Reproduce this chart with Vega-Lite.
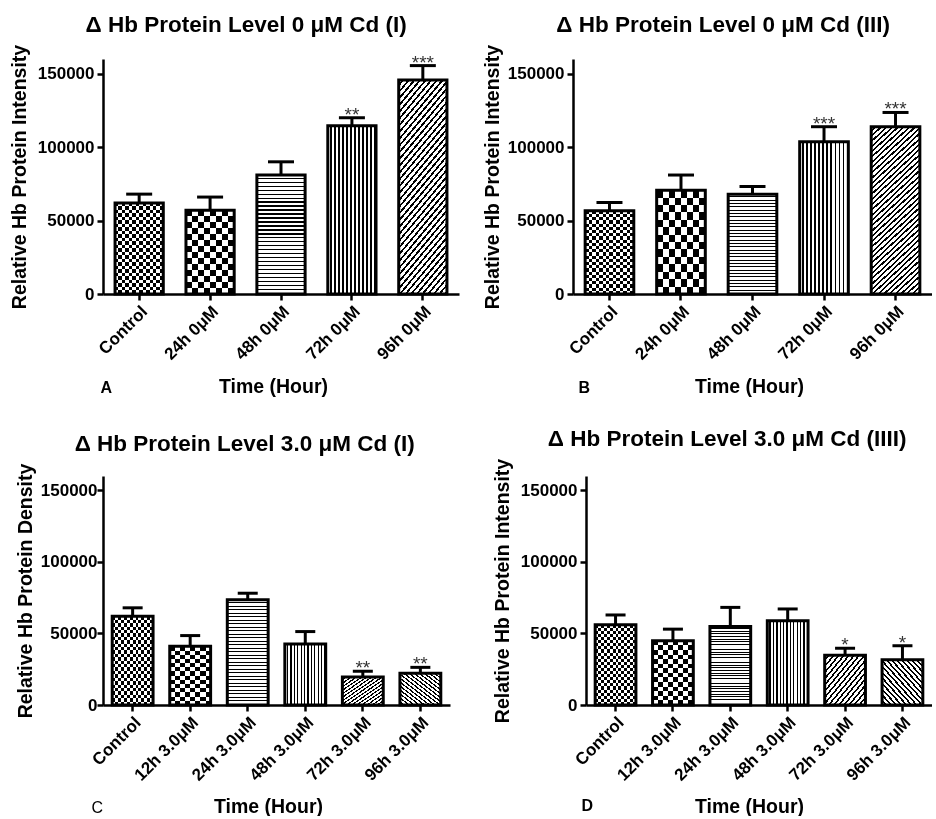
{
"$schema":"https://vega.github.io/schema/vega-lite/v6.json",
"background":"white",
"padding":{"left":9,"top":13,"right":0,"bottom":0},
"params":[
{"name":"g_vl","value":{"gradient":"linear","x1":0,"y1":0,"x2":1,"y2":0,"stops":[
{"offset":0,"color":"#fff"},
{"offset":0.05,"color":"#fff"},{"offset":0.05,"color":"#000"},{"offset":0.0833,"color":"#000"},{"offset":0.0833,"color":"#fff"},
{"offset":0.1333,"color":"#fff"},{"offset":0.1333,"color":"#000"},{"offset":0.1667,"color":"#000"},{"offset":0.1667,"color":"#fff"},
{"offset":0.2167,"color":"#fff"},{"offset":0.2167,"color":"#000"},{"offset":0.25,"color":"#000"},{"offset":0.25,"color":"#fff"},
{"offset":0.3,"color":"#fff"},{"offset":0.3,"color":"#000"},{"offset":0.3333,"color":"#000"},{"offset":0.3333,"color":"#fff"},
{"offset":0.3833,"color":"#fff"},{"offset":0.3833,"color":"#000"},{"offset":0.4167,"color":"#000"},{"offset":0.4167,"color":"#fff"},
{"offset":0.4667,"color":"#fff"},{"offset":0.4667,"color":"#000"},{"offset":0.5,"color":"#000"},{"offset":0.5,"color":"#fff"},
{"offset":0.55,"color":"#fff"},{"offset":0.55,"color":"#000"},{"offset":0.5833,"color":"#000"},{"offset":0.5833,"color":"#fff"},
{"offset":0.6333,"color":"#fff"},{"offset":0.6333,"color":"#000"},{"offset":0.6667,"color":"#000"},{"offset":0.6667,"color":"#fff"},
{"offset":0.7167,"color":"#fff"},{"offset":0.7167,"color":"#000"},{"offset":0.75,"color":"#000"},{"offset":0.75,"color":"#fff"},
{"offset":0.8,"color":"#fff"},{"offset":0.8,"color":"#000"},{"offset":0.8333,"color":"#000"},{"offset":0.8333,"color":"#fff"},
{"offset":0.8833,"color":"#fff"},{"offset":0.8833,"color":"#000"},{"offset":0.9167,"color":"#000"},{"offset":0.9167,"color":"#fff"},
{"offset":0.9667,"color":"#fff"},{"offset":0.9667,"color":"#000"},{"offset":1,"color":"#000"}]}},
{"name":"g_hl","value":{"gradient":"linear","x1":0,"y1":0,"x2":0,"y2":1,"stops":[
{"offset":0,"color":"#fff"},
{"offset":0.0222,"color":"#fff"},{"offset":0.0222,"color":"#000"},{"offset":0.0333,"color":"#000"},{"offset":0.0333,"color":"#fff"},
{"offset":0.0556,"color":"#fff"},{"offset":0.0556,"color":"#000"},{"offset":0.0667,"color":"#000"},{"offset":0.0667,"color":"#fff"},
{"offset":0.0889,"color":"#fff"},{"offset":0.0889,"color":"#000"},{"offset":0.1,"color":"#000"},{"offset":0.1,"color":"#fff"},
{"offset":0.1222,"color":"#fff"},{"offset":0.1222,"color":"#000"},{"offset":0.1333,"color":"#000"},{"offset":0.1333,"color":"#fff"},
{"offset":0.1556,"color":"#fff"},{"offset":0.1556,"color":"#000"},{"offset":0.1667,"color":"#000"},{"offset":0.1667,"color":"#fff"},
{"offset":0.1889,"color":"#fff"},{"offset":0.1889,"color":"#000"},{"offset":0.2,"color":"#000"},{"offset":0.2,"color":"#fff"},
{"offset":0.2222,"color":"#fff"},{"offset":0.2222,"color":"#000"},{"offset":0.2333,"color":"#000"},{"offset":0.2333,"color":"#fff"},
{"offset":0.2556,"color":"#fff"},{"offset":0.2556,"color":"#000"},{"offset":0.2667,"color":"#000"},{"offset":0.2667,"color":"#fff"},
{"offset":0.2889,"color":"#fff"},{"offset":0.2889,"color":"#000"},{"offset":0.3,"color":"#000"},{"offset":0.3,"color":"#fff"},
{"offset":0.3222,"color":"#fff"},{"offset":0.3222,"color":"#000"},{"offset":0.3333,"color":"#000"},{"offset":0.3333,"color":"#fff"},
{"offset":0.3556,"color":"#fff"},{"offset":0.3556,"color":"#000"},{"offset":0.3667,"color":"#000"},{"offset":0.3667,"color":"#fff"},
{"offset":0.3889,"color":"#fff"},{"offset":0.3889,"color":"#000"},{"offset":0.4,"color":"#000"},{"offset":0.4,"color":"#fff"},
{"offset":0.4222,"color":"#fff"},{"offset":0.4222,"color":"#000"},{"offset":0.4333,"color":"#000"},{"offset":0.4333,"color":"#fff"},
{"offset":0.4556,"color":"#fff"},{"offset":0.4556,"color":"#000"},{"offset":0.4667,"color":"#000"},{"offset":0.4667,"color":"#fff"},
{"offset":0.4889,"color":"#fff"},{"offset":0.4889,"color":"#000"},{"offset":0.5,"color":"#000"},{"offset":0.5,"color":"#fff"},
{"offset":0.5222,"color":"#fff"},{"offset":0.5222,"color":"#000"},{"offset":0.5333,"color":"#000"},{"offset":0.5333,"color":"#fff"},
{"offset":0.5556,"color":"#fff"},{"offset":0.5556,"color":"#000"},{"offset":0.5667,"color":"#000"},{"offset":0.5667,"color":"#fff"},
{"offset":0.5889,"color":"#fff"},{"offset":0.5889,"color":"#000"},{"offset":0.6,"color":"#000"},{"offset":0.6,"color":"#fff"},
{"offset":0.6222,"color":"#fff"},{"offset":0.6222,"color":"#000"},{"offset":0.6333,"color":"#000"},{"offset":0.6333,"color":"#fff"},
{"offset":0.6556,"color":"#fff"},{"offset":0.6556,"color":"#000"},{"offset":0.6667,"color":"#000"},{"offset":0.6667,"color":"#fff"},
{"offset":0.6889,"color":"#fff"},{"offset":0.6889,"color":"#000"},{"offset":0.7,"color":"#000"},{"offset":0.7,"color":"#fff"},
{"offset":0.7222,"color":"#fff"},{"offset":0.7222,"color":"#000"},{"offset":0.7333,"color":"#000"},{"offset":0.7333,"color":"#fff"},
{"offset":0.7556,"color":"#fff"},{"offset":0.7556,"color":"#000"},{"offset":0.7667,"color":"#000"},{"offset":0.7667,"color":"#fff"},
{"offset":0.7889,"color":"#fff"},{"offset":0.7889,"color":"#000"},{"offset":0.8,"color":"#000"},{"offset":0.8,"color":"#fff"},
{"offset":0.8222,"color":"#fff"},{"offset":0.8222,"color":"#000"},{"offset":0.8333,"color":"#000"},{"offset":0.8333,"color":"#fff"},
{"offset":0.8556,"color":"#fff"},{"offset":0.8556,"color":"#000"},{"offset":0.8667,"color":"#000"},{"offset":0.8667,"color":"#fff"},
{"offset":0.8889,"color":"#fff"},{"offset":0.8889,"color":"#000"},{"offset":0.9,"color":"#000"},{"offset":0.9,"color":"#fff"},
{"offset":0.9222,"color":"#fff"},{"offset":0.9222,"color":"#000"},{"offset":0.9333,"color":"#000"},{"offset":0.9333,"color":"#fff"},
{"offset":0.9556,"color":"#fff"},{"offset":0.9556,"color":"#000"},{"offset":0.9667,"color":"#000"},{"offset":0.9667,"color":"#fff"},
{"offset":0.9889,"color":"#fff"},{"offset":0.9889,"color":"#000"},{"offset":1,"color":"#000"}]}},
{"name":"g_dv","value":{"gradient":"linear","x1":0,"y1":0,"x2":1,"y2":0,"stops":[
{"offset":0,"color":"#fff"},{"offset":0.0714,"color":"#fff"},{"offset":0.0714,"color":"#000"},{"offset":0.1429,"color":"#000"},
{"offset":0.1429,"color":"#fff"},{"offset":0.2143,"color":"#fff"},{"offset":0.2143,"color":"#000"},{"offset":0.2857,"color":"#000"},
{"offset":0.2857,"color":"#fff"},{"offset":0.3571,"color":"#fff"},{"offset":0.3571,"color":"#000"},{"offset":0.4286,"color":"#000"},
{"offset":0.4286,"color":"#fff"},{"offset":0.5,"color":"#fff"},{"offset":0.5,"color":"#000"},{"offset":0.5714,"color":"#000"},
{"offset":0.5714,"color":"#fff"},{"offset":0.6429,"color":"#fff"},{"offset":0.6429,"color":"#000"},{"offset":0.7143,"color":"#000"},
{"offset":0.7143,"color":"#fff"},{"offset":0.7857,"color":"#fff"},{"offset":0.7857,"color":"#000"},{"offset":0.8571,"color":"#000"},
{"offset":0.8571,"color":"#fff"},{"offset":0.9286,"color":"#fff"},{"offset":0.9286,"color":"#000"},{"offset":1,"color":"#000"}]}},
{"name":"g_dh","value":{"gradient":"linear","x1":0,"y1":0,"x2":0,"y2":1,"stops":[
{"offset":0,"color":"#fff"},{"offset":0.0385,"color":"#fff"},{"offset":0.0385,"color":"#000"},{"offset":0.0769,"color":"#000"},
{"offset":0.0769,"color":"#fff"},{"offset":0.1154,"color":"#fff"},{"offset":0.1154,"color":"#000"},{"offset":0.1538,"color":"#000"},
{"offset":0.1538,"color":"#fff"},{"offset":0.1923,"color":"#fff"},{"offset":0.1923,"color":"#000"},{"offset":0.2308,"color":"#000"},
{"offset":0.2308,"color":"#fff"},{"offset":0.2692,"color":"#fff"},{"offset":0.2692,"color":"#000"},{"offset":0.3077,"color":"#000"},
{"offset":0.3077,"color":"#fff"},{"offset":0.3462,"color":"#fff"},{"offset":0.3462,"color":"#000"},{"offset":0.3846,"color":"#000"},
{"offset":0.3846,"color":"#fff"},{"offset":0.4231,"color":"#fff"},{"offset":0.4231,"color":"#000"},{"offset":0.4615,"color":"#000"},
{"offset":0.4615,"color":"#fff"},{"offset":0.5,"color":"#fff"},{"offset":0.5,"color":"#000"},{"offset":0.5385,"color":"#000"},
{"offset":0.5385,"color":"#fff"},{"offset":0.5769,"color":"#fff"},{"offset":0.5769,"color":"#000"},{"offset":0.6154,"color":"#000"},
{"offset":0.6154,"color":"#fff"},{"offset":0.6538,"color":"#fff"},{"offset":0.6538,"color":"#000"},{"offset":0.6923,"color":"#000"},
{"offset":0.6923,"color":"#fff"},{"offset":0.7308,"color":"#fff"},{"offset":0.7308,"color":"#000"},{"offset":0.7692,"color":"#000"},
{"offset":0.7692,"color":"#fff"},{"offset":0.8077,"color":"#fff"},{"offset":0.8077,"color":"#000"},{"offset":0.8462,"color":"#000"},
{"offset":0.8462,"color":"#fff"},{"offset":0.8846,"color":"#fff"},{"offset":0.8846,"color":"#000"},{"offset":0.9231,"color":"#000"},
{"offset":0.9231,"color":"#fff"},{"offset":0.9615,"color":"#fff"},{"offset":0.9615,"color":"#000"},{"offset":1,"color":"#000"}]}},
{"name":"g_cv","value":{"gradient":"linear","x1":0,"y1":0,"x2":1,"y2":0,"stops":[
{"offset":0,"color":"#fff"},{"offset":0.125,"color":"#fff"},{"offset":0.125,"color":"#000"},{"offset":0.25,"color":"#000"},
{"offset":0.25,"color":"#fff"},{"offset":0.375,"color":"#fff"},{"offset":0.375,"color":"#000"},{"offset":0.5,"color":"#000"},
{"offset":0.5,"color":"#fff"},{"offset":0.625,"color":"#fff"},{"offset":0.625,"color":"#000"},{"offset":0.75,"color":"#000"},
{"offset":0.75,"color":"#fff"},{"offset":0.875,"color":"#fff"},{"offset":0.875,"color":"#000"},{"offset":1,"color":"#000"}]}},
{"name":"g_ch","value":{"gradient":"linear","x1":0,"y1":0,"x2":0,"y2":1,"stops":[
{"offset":0,"color":"#fff"},{"offset":0.0714,"color":"#fff"},{"offset":0.0714,"color":"#000"},{"offset":0.1429,"color":"#000"},
{"offset":0.1429,"color":"#fff"},{"offset":0.2143,"color":"#fff"},{"offset":0.2143,"color":"#000"},{"offset":0.2857,"color":"#000"},
{"offset":0.2857,"color":"#fff"},{"offset":0.3571,"color":"#fff"},{"offset":0.3571,"color":"#000"},{"offset":0.4286,"color":"#000"},
{"offset":0.4286,"color":"#fff"},{"offset":0.5,"color":"#fff"},{"offset":0.5,"color":"#000"},{"offset":0.5714,"color":"#000"},
{"offset":0.5714,"color":"#fff"},{"offset":0.6429,"color":"#fff"},{"offset":0.6429,"color":"#000"},{"offset":0.7143,"color":"#000"},
{"offset":0.7143,"color":"#fff"},{"offset":0.7857,"color":"#fff"},{"offset":0.7857,"color":"#000"},{"offset":0.8571,"color":"#000"},
{"offset":0.8571,"color":"#fff"},{"offset":0.9286,"color":"#fff"},{"offset":0.9286,"color":"#000"},{"offset":1,"color":"#000"}]}},
{"name":"g_dt","value":{"gradient":"linear","x1":0,"y1":0,"x2":0.32,"y2":1.18,"stops":[
{"offset":0,"color":"#fff"},
{"offset":0.015,"color":"#fff"},{"offset":0.015,"color":"#000"},{"offset":0.025,"color":"#000"},{"offset":0.025,"color":"#fff"},
{"offset":0.04,"color":"#fff"},{"offset":0.04,"color":"#000"},{"offset":0.05,"color":"#000"},{"offset":0.05,"color":"#fff"},
{"offset":0.065,"color":"#fff"},{"offset":0.065,"color":"#000"},{"offset":0.075,"color":"#000"},{"offset":0.075,"color":"#fff"},
{"offset":0.09,"color":"#fff"},{"offset":0.09,"color":"#000"},{"offset":0.1,"color":"#000"},{"offset":0.1,"color":"#fff"},
{"offset":0.115,"color":"#fff"},{"offset":0.115,"color":"#000"},{"offset":0.125,"color":"#000"},{"offset":0.125,"color":"#fff"},
{"offset":0.14,"color":"#fff"},{"offset":0.14,"color":"#000"},{"offset":0.15,"color":"#000"},{"offset":0.15,"color":"#fff"},
{"offset":0.165,"color":"#fff"},{"offset":0.165,"color":"#000"},{"offset":0.175,"color":"#000"},{"offset":0.175,"color":"#fff"},
{"offset":0.19,"color":"#fff"},{"offset":0.19,"color":"#000"},{"offset":0.2,"color":"#000"},{"offset":0.2,"color":"#fff"},
{"offset":0.215,"color":"#fff"},{"offset":0.215,"color":"#000"},{"offset":0.225,"color":"#000"},{"offset":0.225,"color":"#fff"},
{"offset":0.24,"color":"#fff"},{"offset":0.24,"color":"#000"},{"offset":0.25,"color":"#000"},{"offset":0.25,"color":"#fff"},
{"offset":0.265,"color":"#fff"},{"offset":0.265,"color":"#000"},{"offset":0.275,"color":"#000"},{"offset":0.275,"color":"#fff"},
{"offset":0.29,"color":"#fff"},{"offset":0.29,"color":"#000"},{"offset":0.3,"color":"#000"},{"offset":0.3,"color":"#fff"},
{"offset":0.315,"color":"#fff"},{"offset":0.315,"color":"#000"},{"offset":0.325,"color":"#000"},{"offset":0.325,"color":"#fff"},
{"offset":0.34,"color":"#fff"},{"offset":0.34,"color":"#000"},{"offset":0.35,"color":"#000"},{"offset":0.35,"color":"#fff"},
{"offset":0.365,"color":"#fff"},{"offset":0.365,"color":"#000"},{"offset":0.375,"color":"#000"},{"offset":0.375,"color":"#fff"},
{"offset":0.39,"color":"#fff"},{"offset":0.39,"color":"#000"},{"offset":0.4,"color":"#000"},{"offset":0.4,"color":"#fff"},
{"offset":0.415,"color":"#fff"},{"offset":0.415,"color":"#000"},{"offset":0.425,"color":"#000"},{"offset":0.425,"color":"#fff"},
{"offset":0.44,"color":"#fff"},{"offset":0.44,"color":"#000"},{"offset":0.45,"color":"#000"},{"offset":0.45,"color":"#fff"},
{"offset":0.465,"color":"#fff"},{"offset":0.465,"color":"#000"},{"offset":0.475,"color":"#000"},{"offset":0.475,"color":"#fff"},
{"offset":0.49,"color":"#fff"},{"offset":0.49,"color":"#000"},{"offset":0.5,"color":"#000"},{"offset":0.5,"color":"#fff"},
{"offset":0.515,"color":"#fff"},{"offset":0.515,"color":"#000"},{"offset":0.525,"color":"#000"},{"offset":0.525,"color":"#fff"},
{"offset":0.54,"color":"#fff"},{"offset":0.54,"color":"#000"},{"offset":0.55,"color":"#000"},{"offset":0.55,"color":"#fff"},
{"offset":0.565,"color":"#fff"},{"offset":0.565,"color":"#000"},{"offset":0.575,"color":"#000"},{"offset":0.575,"color":"#fff"},
{"offset":0.59,"color":"#fff"},{"offset":0.59,"color":"#000"},{"offset":0.6,"color":"#000"},{"offset":0.6,"color":"#fff"},
{"offset":0.615,"color":"#fff"},{"offset":0.615,"color":"#000"},{"offset":0.625,"color":"#000"},{"offset":0.625,"color":"#fff"},
{"offset":0.64,"color":"#fff"},{"offset":0.64,"color":"#000"},{"offset":0.65,"color":"#000"},{"offset":0.65,"color":"#fff"},
{"offset":0.665,"color":"#fff"},{"offset":0.665,"color":"#000"},{"offset":0.675,"color":"#000"},{"offset":0.675,"color":"#fff"},
{"offset":0.69,"color":"#fff"},{"offset":0.69,"color":"#000"},{"offset":0.7,"color":"#000"},{"offset":0.7,"color":"#fff"},
{"offset":0.715,"color":"#fff"},{"offset":0.715,"color":"#000"},{"offset":0.725,"color":"#000"},{"offset":0.725,"color":"#fff"},
{"offset":0.74,"color":"#fff"},{"offset":0.74,"color":"#000"},{"offset":0.75,"color":"#000"},{"offset":0.75,"color":"#fff"},
{"offset":0.765,"color":"#fff"},{"offset":0.765,"color":"#000"},{"offset":0.775,"color":"#000"},{"offset":0.775,"color":"#fff"},
{"offset":0.79,"color":"#fff"},{"offset":0.79,"color":"#000"},{"offset":0.8,"color":"#000"},{"offset":0.8,"color":"#fff"},
{"offset":0.815,"color":"#fff"},{"offset":0.815,"color":"#000"},{"offset":0.825,"color":"#000"},{"offset":0.825,"color":"#fff"},
{"offset":0.84,"color":"#fff"},{"offset":0.84,"color":"#000"},{"offset":0.85,"color":"#000"},{"offset":0.85,"color":"#fff"},
{"offset":0.865,"color":"#fff"},{"offset":0.865,"color":"#000"},{"offset":0.875,"color":"#000"},{"offset":0.875,"color":"#fff"},
{"offset":0.89,"color":"#fff"},{"offset":0.89,"color":"#000"},{"offset":0.9,"color":"#000"},{"offset":0.9,"color":"#fff"},
{"offset":0.915,"color":"#fff"},{"offset":0.915,"color":"#000"},{"offset":0.925,"color":"#000"},{"offset":0.925,"color":"#fff"},
{"offset":0.94,"color":"#fff"},{"offset":0.94,"color":"#000"},{"offset":0.95,"color":"#000"},{"offset":0.95,"color":"#fff"},
{"offset":0.965,"color":"#fff"},{"offset":0.965,"color":"#000"},{"offset":0.975,"color":"#000"},{"offset":0.975,"color":"#fff"},
{"offset":0.99,"color":"#fff"},{"offset":0.99,"color":"#000"},{"offset":1,"color":"#000"}]}},
{"name":"g_ds","value":{"gradient":"linear","x1":0,"y1":0,"x2":1,"y2":1,"stops":[
{"offset":0,"color":"#fff"},
{"offset":0.0375,"color":"#fff"},{"offset":0.0375,"color":"#000"},{"offset":0.0625,"color":"#000"},{"offset":0.0625,"color":"#fff"},
{"offset":0.1,"color":"#fff"},{"offset":0.1,"color":"#000"},{"offset":0.125,"color":"#000"},{"offset":0.125,"color":"#fff"},
{"offset":0.1625,"color":"#fff"},{"offset":0.1625,"color":"#000"},{"offset":0.1875,"color":"#000"},{"offset":0.1875,"color":"#fff"},
{"offset":0.225,"color":"#fff"},{"offset":0.225,"color":"#000"},{"offset":0.25,"color":"#000"},{"offset":0.25,"color":"#fff"},
{"offset":0.2875,"color":"#fff"},{"offset":0.2875,"color":"#000"},{"offset":0.3125,"color":"#000"},{"offset":0.3125,"color":"#fff"},
{"offset":0.35,"color":"#fff"},{"offset":0.35,"color":"#000"},{"offset":0.375,"color":"#000"},{"offset":0.375,"color":"#fff"},
{"offset":0.4125,"color":"#fff"},{"offset":0.4125,"color":"#000"},{"offset":0.4375,"color":"#000"},{"offset":0.4375,"color":"#fff"},
{"offset":0.475,"color":"#fff"},{"offset":0.475,"color":"#000"},{"offset":0.5,"color":"#000"},{"offset":0.5,"color":"#fff"},
{"offset":0.5375,"color":"#fff"},{"offset":0.5375,"color":"#000"},{"offset":0.5625,"color":"#000"},{"offset":0.5625,"color":"#fff"},
{"offset":0.6,"color":"#fff"},{"offset":0.6,"color":"#000"},{"offset":0.625,"color":"#000"},{"offset":0.625,"color":"#fff"},
{"offset":0.6625,"color":"#fff"},{"offset":0.6625,"color":"#000"},{"offset":0.6875,"color":"#000"},{"offset":0.6875,"color":"#fff"},
{"offset":0.725,"color":"#fff"},{"offset":0.725,"color":"#000"},{"offset":0.75,"color":"#000"},{"offset":0.75,"color":"#fff"},
{"offset":0.7875,"color":"#fff"},{"offset":0.7875,"color":"#000"},{"offset":0.8125,"color":"#000"},{"offset":0.8125,"color":"#fff"},
{"offset":0.85,"color":"#fff"},{"offset":0.85,"color":"#000"},{"offset":0.875,"color":"#000"},{"offset":0.875,"color":"#fff"},
{"offset":0.9125,"color":"#fff"},{"offset":0.9125,"color":"#000"},{"offset":0.9375,"color":"#000"},{"offset":0.9375,"color":"#fff"},
{"offset":0.975,"color":"#fff"},{"offset":0.975,"color":"#000"},{"offset":1,"color":"#000"}]}},
{"name":"g_db","value":{"gradient":"linear","x1":0,"y1":1,"x2":1,"y2":0,"stops":[
{"offset":0,"color":"#fff"},
{"offset":0.0375,"color":"#fff"},{"offset":0.0375,"color":"#000"},{"offset":0.0625,"color":"#000"},{"offset":0.0625,"color":"#fff"},
{"offset":0.1,"color":"#fff"},{"offset":0.1,"color":"#000"},{"offset":0.125,"color":"#000"},{"offset":0.125,"color":"#fff"},
{"offset":0.1625,"color":"#fff"},{"offset":0.1625,"color":"#000"},{"offset":0.1875,"color":"#000"},{"offset":0.1875,"color":"#fff"},
{"offset":0.225,"color":"#fff"},{"offset":0.225,"color":"#000"},{"offset":0.25,"color":"#000"},{"offset":0.25,"color":"#fff"},
{"offset":0.2875,"color":"#fff"},{"offset":0.2875,"color":"#000"},{"offset":0.3125,"color":"#000"},{"offset":0.3125,"color":"#fff"},
{"offset":0.35,"color":"#fff"},{"offset":0.35,"color":"#000"},{"offset":0.375,"color":"#000"},{"offset":0.375,"color":"#fff"},
{"offset":0.4125,"color":"#fff"},{"offset":0.4125,"color":"#000"},{"offset":0.4375,"color":"#000"},{"offset":0.4375,"color":"#fff"},
{"offset":0.475,"color":"#fff"},{"offset":0.475,"color":"#000"},{"offset":0.5,"color":"#000"},{"offset":0.5,"color":"#fff"},
{"offset":0.5375,"color":"#fff"},{"offset":0.5375,"color":"#000"},{"offset":0.5625,"color":"#000"},{"offset":0.5625,"color":"#fff"},
{"offset":0.6,"color":"#fff"},{"offset":0.6,"color":"#000"},{"offset":0.625,"color":"#000"},{"offset":0.625,"color":"#fff"},
{"offset":0.6625,"color":"#fff"},{"offset":0.6625,"color":"#000"},{"offset":0.6875,"color":"#000"},{"offset":0.6875,"color":"#fff"},
{"offset":0.725,"color":"#fff"},{"offset":0.725,"color":"#000"},{"offset":0.75,"color":"#000"},{"offset":0.75,"color":"#fff"},
{"offset":0.7875,"color":"#fff"},{"offset":0.7875,"color":"#000"},{"offset":0.8125,"color":"#000"},{"offset":0.8125,"color":"#fff"},
{"offset":0.85,"color":"#fff"},{"offset":0.85,"color":"#000"},{"offset":0.875,"color":"#000"},{"offset":0.875,"color":"#fff"},
{"offset":0.9125,"color":"#fff"},{"offset":0.9125,"color":"#000"},{"offset":0.9375,"color":"#000"},{"offset":0.9375,"color":"#fff"},
{"offset":0.975,"color":"#fff"},{"offset":0.975,"color":"#000"},{"offset":1,"color":"#000"}]}}
],
"config":{
"view":{"stroke":null},
"font":"Liberation Sans",
"axis":{"domainColor":"#000","domainWidth":2.5,"tickColor":"#000","tickWidth":2.5,"tickSize":6,"labelColor":"#000","labelFont":"Liberation Sans","labelFontWeight":"bold","labelFontSize":17,"titleColor":"#000","titleFont":"Liberation Sans","titleFontWeight":"bold","titleFontSize":19.5,"grid":false},
"axisX":{"labelAngle":-45,"labelPadding":3,"titlePadding":16},
"axisY":{"labelPadding":3,"titlePadding":8},
"title":{"font":"Liberation Sans","fontSize":22.5,"fontWeight":"bold","color":"#000","frame":"bounds","dx":12,"offset":8}
},
"spacing":31,
"vconcat":[
{"hconcat":[
{"width":356,"height":235,
"title":{"text":"Δ Hb Protein Level 0 μM Cd (I)"},
"data":{"values":[
{"label":"Control","mean":62000,"upper":68000,"sig":""},
{"label":"24h 0μM","mean":57000,"upper":66000,"sig":""},
{"label":"48h 0μM","mean":81000,"upper":90000,"sig":""},
{"label":"72h 0μM","mean":114500,"upper":120000,"sig":"**"},
{"label":"96h 0μM","mean":145700,"upper":155500,"sig":"***"}]},
"layer":[
{"encoding":{
"x":{"field":"label","type":"nominal","sort":null,"scale":{"paddingInner":0.32,"paddingOuter":0.17},"axis":{"title":"Time (Hour)","titleX":170,"titleY":83,"titleBaseline":"top"}},
"y":{"field":"mean","type":"quantitative","scale":{"domain":[0,160000],"nice":false},"axis":{"values":[0,50000,100000,150000],"format":"d"},"title":"Relative Hb Protein Intensity"}},
"layer":[
{"transform":[{"filter":"datum.label==='Control'"}],"mark":{"type":"bar","fill":{"expr":"g_dv"}}},
{"transform":[{"filter":"datum.label==='Control'"}],"mark":{"type":"bar","fill":{"expr":"g_dh"},"blend":"difference"}},
{"transform":[{"filter":"datum.label==='24h 0μM'"}],"mark":{"type":"bar","fill":{"expr":"g_cv"}}},
{"transform":[{"filter":"datum.label==='24h 0μM'"}],"mark":{"type":"bar","fill":{"expr":"g_ch"},"blend":"difference"}},
{"transform":[{"filter":"datum.label==='48h 0μM'"}],"mark":{"type":"bar","fill":{"expr":"g_hl"}}},
{"transform":[{"filter":"datum.label==='72h 0μM'"}],"mark":{"type":"bar","fill":{"expr":"g_vl"}}},
{"transform":[{"filter":"datum.label==='96h 0μM'"}],"mark":{"type":"bar","fill":{"expr":"g_dt"}}},
{"mark":{"type":"bar","filled":false,"stroke":"#000","strokeWidth":3}},
{"mark":{"type":"rule","color":"#000","strokeWidth":3},"encoding":{"y2":{"field":"upper"}}},
{"mark":{"type":"tick","orient":"horizontal","color":"#000","opacity":1,"thickness":3,"size":26},"encoding":{"y":{"field":"upper","type":"quantitative","scale":{"domain":[0,160000],"nice":false},"title":"Relative Hb Protein Intensity"}}},
{"mark":{"type":"text","baseline":"alphabetic","dy":3,"fontSize":19,"color":"#333"},"encoding":{"y":{"field":"upper","type":"quantitative","scale":{"domain":[0,160000],"nice":false},"title":"Relative Hb Protein Intensity"},"text":{"field":"sig"}}}
]},
{"mark":{"type":"text","text":""},"encoding":{"x":{"field":"label","type":"nominal","sort":null,"scale":{"paddingInner":0.32,"paddingOuter":0.17},"axis":{"orient":"bottom","title":"A","titleFontSize":16,"labels":false,"ticks":false,"domain":false,"titleAnchor":"start","titleAlign":"left","titleBaseline":"top","titleX":-3,"titleY":85}}}}
],
"resolve":{"axis":{"x":"independent"}}},
{"width":359,"height":235,
"title":{"text":"Δ Hb Protein Level 0 μM Cd (III)","dx":16},
"data":{"values":[
{"label":"Control","mean":56600,"upper":62300,"sig":""},
{"label":"24h 0μM","mean":70700,"upper":81000,"sig":""},
{"label":"48h 0μM","mean":68000,"upper":73200,"sig":""},
{"label":"72h 0μM","mean":103600,"upper":113900,"sig":"***"},
{"label":"96h 0μM","mean":113900,"upper":123600,"sig":"***"}]},
"layer":[
{"encoding":{
"x":{"field":"label","type":"nominal","sort":null,"scale":{"paddingInner":0.32,"paddingOuter":0.17},"axis":{"title":"Time (Hour)","titleX":176,"titleY":83,"titleBaseline":"top"}},
"y":{"field":"mean","type":"quantitative","scale":{"domain":[0,160000],"nice":false},"axis":{"values":[0,50000,100000,150000],"format":"d","titlePadding":5},"title":"Relative Hb Protein Intensity"}},
"layer":[
{"transform":[{"filter":"datum.label==='Control'"}],"mark":{"type":"bar","fill":{"expr":"g_dv"}}},
{"transform":[{"filter":"datum.label==='Control'"}],"mark":{"type":"bar","fill":{"expr":"g_dh"},"blend":"difference"}},
{"transform":[{"filter":"datum.label==='24h 0μM'"}],"mark":{"type":"bar","fill":{"expr":"g_cv"}}},
{"transform":[{"filter":"datum.label==='24h 0μM'"}],"mark":{"type":"bar","fill":{"expr":"g_ch"},"blend":"difference"}},
{"transform":[{"filter":"datum.label==='48h 0μM'"}],"mark":{"type":"bar","fill":{"expr":"g_hl"}}},
{"transform":[{"filter":"datum.label==='72h 0μM'"}],"mark":{"type":"bar","fill":{"expr":"g_vl"}}},
{"transform":[{"filter":"datum.label==='96h 0μM'"}],"mark":{"type":"bar","fill":{"expr":"g_dt"}}},
{"mark":{"type":"bar","filled":false,"stroke":"#000","strokeWidth":3}},
{"mark":{"type":"rule","color":"#000","strokeWidth":3},"encoding":{"y2":{"field":"upper"}}},
{"mark":{"type":"tick","orient":"horizontal","color":"#000","opacity":1,"thickness":3,"size":26},"encoding":{"y":{"field":"upper","type":"quantitative","scale":{"domain":[0,160000],"nice":false},"title":"Relative Hb Protein Intensity"}}},
{"mark":{"type":"text","baseline":"alphabetic","dy":3,"fontSize":19,"color":"#333"},"encoding":{"y":{"field":"upper","type":"quantitative","scale":{"domain":[0,160000],"nice":false},"title":"Relative Hb Protein Intensity"},"text":{"field":"sig"}}}
]},
{"mark":{"type":"text","text":""},"encoding":{"x":{"field":"label","type":"nominal","sort":null,"scale":{"paddingInner":0.32,"paddingOuter":0.17},"axis":{"orient":"bottom","title":"B","titleFontSize":16,"labels":false,"ticks":false,"domain":false,"titleAnchor":"start","titleAlign":"left","titleBaseline":"top","titleX":5,"titleY":85}}}}
],
"resolve":{"axis":{"x":"independent"}}}
],"spacing":23},
{"hconcat":[
{"width":347,"height":229,
"title":{"text":"Δ Hb Protein Level 3.0 μM Cd (I)"},
"data":{"values":[
{"label":"Control","mean":62000,"upper":67900,"sig":""},
{"label":"12h 3.0μM","mean":41000,"upper":48500,"sig":""},
{"label":"24h 3.0μM","mean":73500,"upper":78100,"sig":""},
{"label":"48h 3.0μM","mean":42700,"upper":51300,"sig":""},
{"label":"72h 3.0μM","mean":19600,"upper":23500,"sig":"**"},
{"label":"96h 3.0μM","mean":22100,"upper":26300,"sig":"**"}]},
"layer":[
{"encoding":{
"x":{"field":"label","type":"nominal","sort":null,"scale":{"paddingInner":0.29,"paddingOuter":0.16},"axis":{"title":"Time (Hour)","titleX":165,"titleY":92,"titleBaseline":"top"}},
"y":{"field":"mean","type":"quantitative","scale":{"domain":[0,160000],"nice":false},"axis":{"values":[0,50000,100000,150000],"format":"d","labelPadding":0,"titlePadding":5},"title":"Relative Hb Protein Density"}},
"layer":[
{"transform":[{"filter":"datum.label==='Control'"}],"mark":{"type":"bar","fill":{"expr":"g_dv"}}},
{"transform":[{"filter":"datum.label==='Control'"}],"mark":{"type":"bar","fill":{"expr":"g_dh"},"blend":"difference"}},
{"transform":[{"filter":"datum.label==='12h 3.0μM'"}],"mark":{"type":"bar","fill":{"expr":"g_cv"}}},
{"transform":[{"filter":"datum.label==='12h 3.0μM'"}],"mark":{"type":"bar","fill":{"expr":"g_ch"},"blend":"difference"}},
{"transform":[{"filter":"datum.label==='24h 3.0μM'"}],"mark":{"type":"bar","fill":{"expr":"g_hl"}}},
{"transform":[{"filter":"datum.label==='48h 3.0μM'"}],"mark":{"type":"bar","fill":{"expr":"g_vl"}}},
{"transform":[{"filter":"datum.label==='72h 3.0μM'"}],"mark":{"type":"bar","fill":{"expr":"g_ds"}}},
{"transform":[{"filter":"datum.label==='96h 3.0μM'"}],"mark":{"type":"bar","fill":{"expr":"g_db"}}},
{"mark":{"type":"bar","filled":false,"stroke":"#000","strokeWidth":3}},
{"mark":{"type":"rule","color":"#000","strokeWidth":3},"encoding":{"y2":{"field":"upper"}}},
{"mark":{"type":"tick","orient":"horizontal","color":"#000","opacity":1,"thickness":3,"size":20},"encoding":{"y":{"field":"upper","type":"quantitative","scale":{"domain":[0,160000],"nice":false},"title":"Relative Hb Protein Density"}}},
{"mark":{"type":"text","baseline":"alphabetic","dy":3,"fontSize":19,"color":"#333"},"encoding":{"y":{"field":"upper","type":"quantitative","scale":{"domain":[0,160000],"nice":false},"title":"Relative Hb Protein Density"},"text":{"field":"sig"}}}
]},
{"mark":{"type":"text","text":""},"encoding":{"x":{"field":"label","type":"nominal","sort":null,"scale":{"paddingInner":0.29,"paddingOuter":0.16},"axis":{"orient":"bottom","title":"C","titleFontSize":16,"titleFontWeight":"normal","labels":false,"ticks":false,"domain":false,"titleAnchor":"start","titleAlign":"left","titleBaseline":"top","titleX":-12,"titleY":94}}}}
],
"resolve":{"axis":{"x":"independent"}}},
{"width":346,"height":229,
"title":{"text":"Δ Hb Protein Level 3.0 μM Cd (IIII)","dx":15},
"data":{"values":[
{"label":"Control","mean":56100,"upper":62900,"sig":""},
{"label":"12h 3.0μM","mean":44900,"upper":53000,"sig":""},
{"label":"24h 3.0μM","mean":54900,"upper":68200,"sig":""},
{"label":"48h 3.0μM","mean":58900,"upper":67100,"sig":""},
{"label":"72h 3.0μM","mean":34800,"upper":39700,"sig":"*"},
{"label":"96h 3.0μM","mean":31700,"upper":41400,"sig":"*"}]},
"layer":[
{"encoding":{
"x":{"field":"label","type":"nominal","sort":null,"scale":{"paddingInner":0.29,"paddingOuter":0.16},"axis":{"title":"Time (Hour)","titleX":163,"titleY":92,"titleBaseline":"top"}},
"y":{"field":"mean","type":"quantitative","scale":{"domain":[0,160000],"nice":false},"axis":{"values":[0,50000,100000,150000],"format":"d"},"title":"Relative Hb Protein Intensity"}},
"layer":[
{"transform":[{"filter":"datum.label==='Control'"}],"mark":{"type":"bar","fill":{"expr":"g_dv"}}},
{"transform":[{"filter":"datum.label==='Control'"}],"mark":{"type":"bar","fill":{"expr":"g_dh"},"blend":"difference"}},
{"transform":[{"filter":"datum.label==='12h 3.0μM'"}],"mark":{"type":"bar","fill":{"expr":"g_cv"}}},
{"transform":[{"filter":"datum.label==='12h 3.0μM'"}],"mark":{"type":"bar","fill":{"expr":"g_ch"},"blend":"difference"}},
{"transform":[{"filter":"datum.label==='24h 3.0μM'"}],"mark":{"type":"bar","fill":{"expr":"g_hl"}}},
{"transform":[{"filter":"datum.label==='48h 3.0μM'"}],"mark":{"type":"bar","fill":{"expr":"g_vl"}}},
{"transform":[{"filter":"datum.label==='72h 3.0μM'"}],"mark":{"type":"bar","fill":{"expr":"g_ds"}}},
{"transform":[{"filter":"datum.label==='96h 3.0μM'"}],"mark":{"type":"bar","fill":{"expr":"g_db"}}},
{"mark":{"type":"bar","filled":false,"stroke":"#000","strokeWidth":3}},
{"mark":{"type":"rule","color":"#000","strokeWidth":3},"encoding":{"y2":{"field":"upper"}}},
{"mark":{"type":"tick","orient":"horizontal","color":"#000","opacity":1,"thickness":3,"size":20},"encoding":{"y":{"field":"upper","type":"quantitative","scale":{"domain":[0,160000],"nice":false},"title":"Relative Hb Protein Intensity"}}},
{"mark":{"type":"text","baseline":"alphabetic","dy":3,"fontSize":19,"color":"#333"},"encoding":{"y":{"field":"upper","type":"quantitative","scale":{"domain":[0,160000],"nice":false},"title":"Relative Hb Protein Intensity"},"text":{"field":"sig"}}}
]},
{"mark":{"type":"text","text":""},"encoding":{"x":{"field":"label","type":"nominal","sort":null,"scale":{"paddingInner":0.29,"paddingOuter":0.16},"axis":{"orient":"bottom","title":"D","titleFontSize":16,"labels":false,"ticks":false,"domain":false,"titleAnchor":"start","titleAlign":"left","titleBaseline":"top","titleX":-5,"titleY":92}}}}
],
"resolve":{"axis":{"x":"independent"}}}
],"spacing":42}
]
}
